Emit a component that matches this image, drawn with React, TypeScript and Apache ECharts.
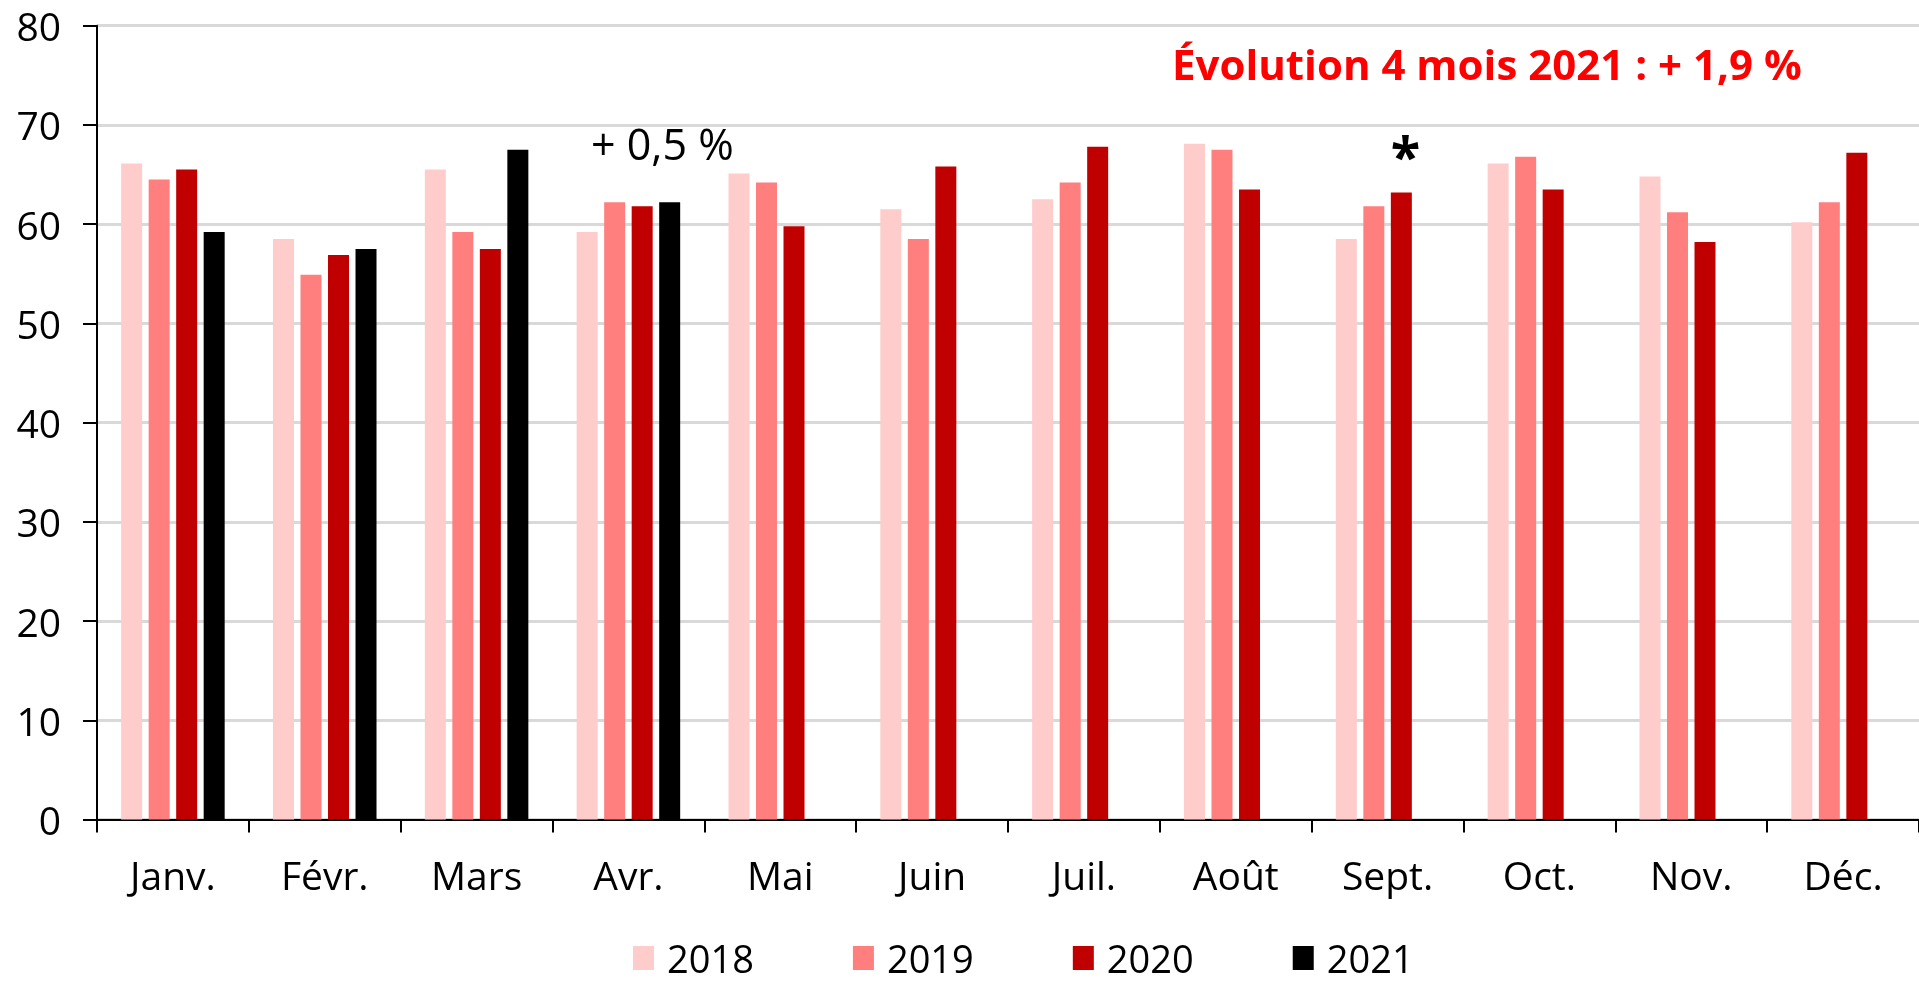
import React, { useEffect, useRef } from "react";
import * as echarts from "echarts";

const months = ["Janv.", "Févr.", "Mars", "Avr.", "Mai", "Juin", "Juil.", "Août", "Sept.", "Oct.", "Nov.", "Déc."];
const seriesNames = ["2018", "2019", "2020", "2021"];
const v2018 = [66.1, 58.5, 65.5, 59.2, 65.1, 61.5, 62.5, 68.1, 58.5, 66.1, 64.8, 60.2];
const v2019 = [64.5, 54.9, 59.2, 62.2, 64.2, 58.5, 64.2, 67.5, 61.8, 66.8, 61.2, 62.2];
const v2020 = [65.5, 56.9, 57.5, 61.8, 59.8, 65.8, 67.8, 63.5, 63.2, 63.5, 58.2, 67.2];
const v2021 = [59.2, 57.5, 67.5, 62.2, null, null, null, null, null, null, null, null];
const colors = ["#FFCCCC", "#FF7F7F", "#C00000", "#000000"];
const yTicks = { min: 0, max: 80, interval: 10 };
const titleText = "Évolution 4 mois 2021 : + 1,9 %";
const aprilNote = "+ 0,5 %";
const septNote = "*";

const FONT = "'Open Sans', 'Noto Sans', sans-serif";

export default function App() {
  const ref = useRef<HTMLDivElement>(null);
  useEffect(() => {
    document.body.style.margin = "0";
    const chart = echarts.init(ref.current!, null, { renderer: "svg" });
    const allValues = [v2018, v2019, v2020, v2021];
    chart.setOption({
      animation: false,
      textStyle: { fontFamily: FONT },
      grid: { left: 97, right: 0, top: 25.7, bottom: 165.5, containLabel: false },
      legend: {
        data: seriesNames,
        left: 628,
        top: 934,
        itemWidth: 21,
        itemHeight: 24,
        itemGap: 99,
        icon: "rect",
        textStyle: { fontSize: 38, color: "#000", fontFamily: FONT, padding: [0, 0, 0, 8], lineHeight: 38 },
      },
      xAxis: {
        type: "category",
        data: months,
        axisLine: { lineStyle: { color: "#000", width: 2 } },
        axisTick: { show: true, length: 13, lineStyle: { color: "#000", width: 2 } },
        axisLabel: { color: "#000", fontSize: 39, margin: 35, fontFamily: FONT, lineHeight: 39 },
      },
      yAxis: {
        type: "value",
        min: yTicks.min,
        max: yTicks.max,
        interval: yTicks.interval,
        axisLine: { show: true, lineStyle: { color: "#000", width: 2 } },
        axisTick: { show: true, length: 14, lineStyle: { color: "#000", width: 2 } },
        axisLabel: { color: "#000", fontSize: 39, margin: 36, fontFamily: FONT },
        splitLine: { show: true, lineStyle: { color: "#D9D9D9", width: 3 } },
      },
      series: seriesNames.map((name, i) => ({
        name,
        type: "bar",
        data: allValues[i],
        barWidth: 21,
        barGap: "31%",
        itemStyle: { color: colors[i] },
      })),
      graphic: [
        {
          type: "text",
          left: 1172,
          top: 42,
          style: { text: titleText, fill: "#FF0000", font: `bold 42px ${FONT}` },
        },
        {
          type: "text",
          left: 591,
          top: 122,
          style: { text: aprilNote, fill: "#000", font: `43px ${FONT}` },
        },
        {
          type: "text",
          x: 1405.5,
          y: 155,
          style: { text: septNote, fill: "#000", font: `bold 54px ${FONT}`, align: "center", verticalAlign: "middle" },
        },
      ],
    });
    return () => chart.dispose();
  }, []);
  return <div ref={ref} style={{ position: "fixed", left: 0, top: 0, width: 1919, height: 985 }} />;
}
